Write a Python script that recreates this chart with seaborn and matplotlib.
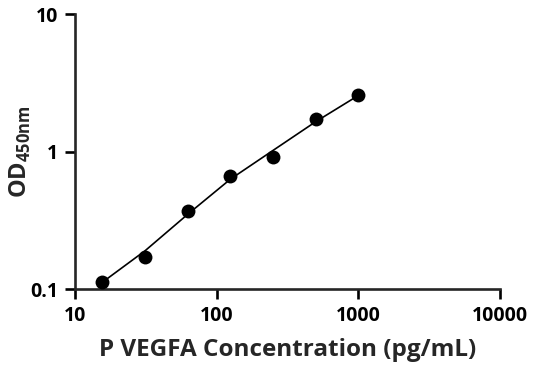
import matplotlib
matplotlib.use("Agg")
import matplotlib.pyplot as plt
import seaborn as sns
import pandas as pd

# standard curve points (pg/mL vs OD450)
conc = [15.6, 31.25, 62.5, 125, 250, 500, 1000]
od = [0.113, 0.172, 0.37, 0.668, 0.92, 1.72, 2.56]

# fitted curve
fit_conc = [15.6, 31.25, 62.5, 125, 250, 500, 1000]
fit_od = [0.112, 0.19, 0.35, 0.63, 1.02, 1.65, 2.56]

x_ticks = [10, 100, 1000, 10000]
x_tick_labels = ["10", "100", "1000", "10000"]
y_ticks = [0.1, 1, 10]
y_tick_labels = ["0.1", "1", "10"]

sns.set_style("ticks")
plt.rcParams["font.family"] = ["Open Sans", "DejaVu Sans"]
plt.rcParams["font.weight"] = "bold"
plt.rcParams["mathtext.fontset"] = "custom"
plt.rcParams["mathtext.rm"] = "Open Sans"
plt.rcParams["mathtext.bf"] = "Open Sans:bold"

points = pd.DataFrame({"conc": conc, "od": od})
curve = pd.DataFrame({"conc": fit_conc, "od": fit_od})

fig = plt.figure(figsize=(5.36, 3.71), dpi=100)
ax = fig.add_axes([0.14, 0.221, 0.793, 0.741])

sns.lineplot(data=curve, x="conc", y="od", ax=ax, color="black", linewidth=1.2)
sns.scatterplot(data=points, x="conc", y="od", ax=ax, color="black",
                s=100, edgecolor="black", linewidth=0, zorder=3)

ax.set_xscale("log")
ax.set_yscale("log")
ax.set_xlim(10, 10000)
ax.set_ylim(0.1, 10)
ax.set_xticks(x_ticks)
ax.set_xticklabels(x_tick_labels)
ax.set_yticks(y_ticks)
ax.set_yticklabels(y_tick_labels)
ax.minorticks_off()

for side in ["top", "right"]:
    ax.spines[side].set_visible(False)
for side in ["left", "bottom"]:
    ax.spines[side].set_linewidth(1.9)
ax.tick_params(axis="both", which="major", length=7, width=1.9,
               labelsize=14, pad=5, colors="black")
for lab in ax.get_xticklabels() + ax.get_yticklabels():
    lab.set_fontweight("bold")

ax.set_xlabel("P VEGFA Concentration (pg/mL)", fontsize=17.5, fontweight="bold",
              labelpad=9)
ax.set_ylabel(r"$\mathbf{OD}_{\mathbf{450nm}}$", fontsize=17)
ax.yaxis.set_label_coords(-0.1, 0.5)

fig.savefig("out.png", dpi=100)
